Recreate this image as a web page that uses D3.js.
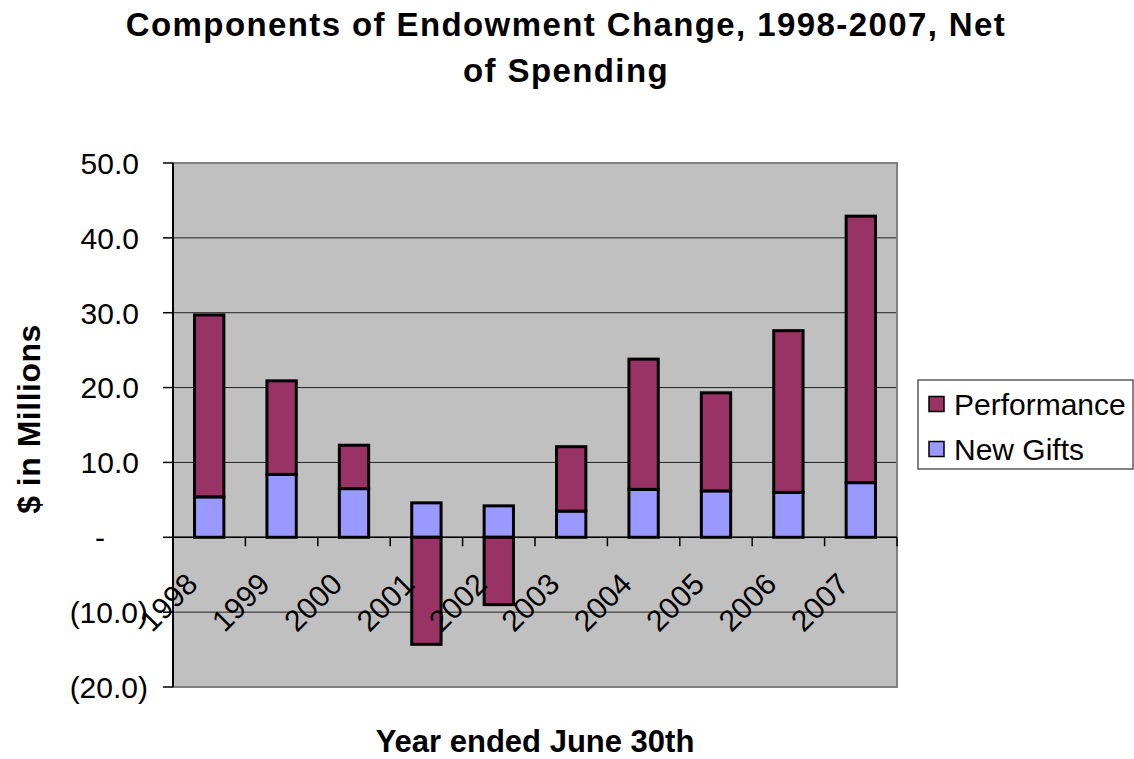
<!DOCTYPE html>
<html>
<head>
<meta charset="utf-8">
<script src="https://cdn.jsdelivr.net/npm/d3@7"></script>
<style>
  body { margin: 0; background: #fff; }
  svg { font-family: Arial, "Liberation Sans", sans-serif; }
</style>
</head>
<body>
<svg id="chart" width="1134" height="759"></svg>
<script>
// Endowment change components, $ millions
const years = ["1998", "1999", "2000", "2001", "2002", "2003", "2004", "2005", "2006", "2007"];
const newGifts = [5.4, 8.4, 6.5, 4.6, 4.2, 3.5, 6.4, 6.2, 6.0, 7.3];
const performance = [24.3, 12.5, 5.8, -14.3, -9.0, 8.6, 17.4, 13.1, 21.6, 35.6];
const yTicks = [50, 40, 30, 20, 10, 0, -10, -20];
const seriesNames = ["New Gifts", "Performance"];
const seriesColors = ["#9999FF", "#993366"];

const svg = d3.select("#chart");
const plot = { left: 173, right: 897, top: 163, bottom: 687 };

const x = d3.scaleBand().domain(years).range([plot.left, plot.right]);
const y = d3.scaleLinear().domain([-20, 50]).range([plot.bottom, plot.top]);

// plot background
svg.append("rect")
  .attr("x", plot.left).attr("y", plot.top)
  .attr("width", plot.right - plot.left).attr("height", plot.bottom - plot.top)
  .attr("fill", "#C0C0C0");

// gridlines
svg.append("g")
  .selectAll("line")
  .data(yTicks.filter(d => d !== -20))
  .enter()
  .append("line")
  .attr("x1", plot.left).attr("x2", plot.right)
  .attr("y1", d => y(d)).attr("y2", d => y(d))
  .attr("stroke", "#222").attr("stroke-width", 1);

// plot border
svg.append("rect")
  .attr("x", plot.left).attr("y", plot.top)
  .attr("width", plot.right - plot.left).attr("height", plot.bottom - plot.top)
  .attr("fill", "none").attr("stroke", "#808080").attr("stroke-width", 2);

// stacked bars
const rows = years.map((yr, i) => ({ year: yr, "New Gifts": newGifts[i], "Performance": performance[i] }));
const stacked = d3.stack().keys(seriesNames).offset(d3.stackOffsetDiverging)(rows);
const barW = x.bandwidth() * 0.405;

svg.append("g")
  .selectAll("g")
  .data(stacked)
  .enter()
  .append("g")
  .attr("fill", (d, i) => seriesColors[i])
  .selectAll("rect")
  .data(d => d)
  .enter()
  .append("rect")
  .attr("x", d => x(d.data.year) + x.bandwidth() / 2 - barW / 2)
  .attr("width", barW)
  .attr("y", d => y(Math.max(d[0], d[1])))
  .attr("height", d => Math.abs(y(d[0]) - y(d[1])))
  .attr("stroke", "#000").attr("stroke-width", 3);

// y axis
const yAxis = svg.append("g").attr("transform", `translate(${plot.left},0)`);
yAxis.append("line")
  .attr("x1", 0).attr("x2", 0).attr("y1", plot.top).attr("y2", plot.bottom)
  .attr("stroke", "#000").attr("stroke-width", 2);
yAxis.selectAll(".tick")
  .data(yTicks)
  .enter()
  .append("line")
  .attr("x1", -10).attr("x2", 0)
  .attr("y1", d => y(d)).attr("y2", d => y(d))
  .attr("stroke", "#000").attr("stroke-width", 1.5);

function fmt(d) {
  if (d === 0) return "-";
  if (d < 0) return "(" + d3.format(".1f")(-d) + ")";
  return d3.format(".1f")(d);
}
svg.append("g")
  .selectAll("text")
  .data(yTicks)
  .enter()
  .append("text")
  .attr("x", d => d === 0 ? 105 : d < 0 ? 148 : 139)
  .attr("y", d => y(d))
  .attr("dy", "0.36em")
  .attr("text-anchor", "end")
  .attr("font-size", 30)
  .text(fmt);

// x axis at zero
const x0 = y(0);
svg.append("line")
  .attr("x1", plot.left).attr("x2", plot.right)
  .attr("y1", x0).attr("y2", x0)
  .attr("stroke", "#000").attr("stroke-width", 1.5);
svg.append("g")
  .selectAll("line")
  .data(years.concat(["end"]))
  .enter()
  .append("line")
  .attr("x1", (d, i) => plot.left + i * x.step())
  .attr("x2", (d, i) => plot.left + i * x.step())
  .attr("y1", x0).attr("y2", x0 + 9)
  .attr("stroke", "#000").attr("stroke-width", 1.5);

svg.append("g")
  .selectAll("text")
  .data(years)
  .enter()
  .append("text")
  .attr("transform", d => `translate(${x(d) + x.bandwidth() / 2 - 10},586) rotate(-45)`)
  .attr("text-anchor", "end")
  .attr("font-size", 30)
  .text(d => d);

// titles
const title = svg.append("text")
  .attr("text-anchor", "middle")
  .attr("font-size", 33)
  .attr("font-weight", "bold")
  .attr("letter-spacing", 1.4);
title.append("tspan").attr("x", 566).attr("y", 36).text("Components of Endowment Change, 1998-2007, Net");
title.append("tspan").attr("x", 566).attr("y", 82).text("of Spending");

svg.append("text")
  .attr("transform", `translate(40,${(plot.top + plot.bottom) / 2 - 6}) rotate(-90)`)
  .attr("text-anchor", "middle")
  .attr("font-size", 32)
  .attr("font-weight", "bold")
  .attr("letter-spacing", 0.5)
  .text("$ in Millions");

svg.append("text")
  .attr("x", (plot.left + plot.right) / 2)
  .attr("y", 752)
  .attr("text-anchor", "middle")
  .attr("font-size", 31)
  .attr("font-weight", "bold")
  .text("Year ended June 30th");

// legend
const legend = svg.append("g");
legend.append("rect")
  .attr("x", 918).attr("y", 380).attr("width", 215).attr("height", 89)
  .attr("fill", "#fff").attr("stroke", "#333").attr("stroke-width", 1.2);
const legendItems = [{ name: "Performance", color: seriesColors[1] }, { name: "New Gifts", color: seriesColors[0] }];
const li = legend.selectAll("g.item")
  .data(legendItems)
  .enter()
  .append("g")
  .attr("transform", (d, i) => `translate(0,${404 + i * 45})`);
li.append("rect")
  .attr("x", 929).attr("y", -7.5).attr("width", 15).attr("height", 15)
  .attr("fill", d => d.color).attr("stroke", "#000").attr("stroke-width", 1.5);
li.append("text")
  .attr("x", 954).attr("y", 0).attr("dy", "0.36em")
  .attr("font-size", 30)
  .text(d => d.name);
</script>
</body>
</html>
